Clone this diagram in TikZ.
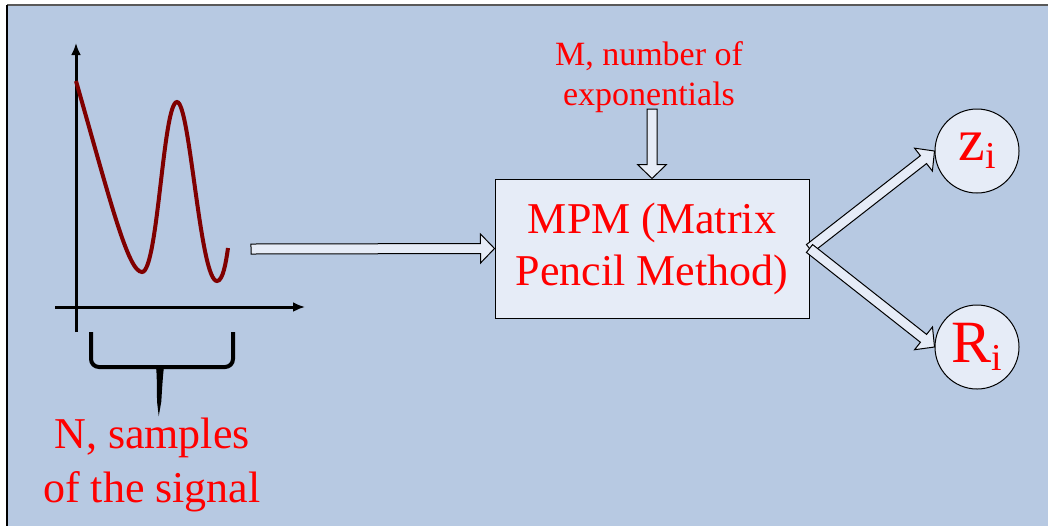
\documentclass[tikz,border=0pt]{standalone}
\usepackage{fontspec}
\setmainfont{Liberation Serif}
\usepackage{xcolor}
\usetikzlibrary{calc,arrows.meta}

\definecolor{slidebg}{HTML}{B7C9E2}
\definecolor{boxfill}{HTML}{E6ECF7}
\definecolor{signalred}{HTML}{800000}

% block arrow between two named points
\newcommand{\fatarrow}[2]{%
  \coordinate (hb) at ($(#2)!7pt!(#1)$);
  \draw[fat] ($(#1)!2.5pt!90:(#2)$) -- ($(hb)!2.5pt!90:(#2)$) -- ($(hb)!7.25pt!90:(#2)$)
    -- (#2) -- ($(hb)!7.25pt!-90:(#2)$) -- ($(hb)!2.5pt!-90:(#2)$) -- ($(#1)!2.5pt!-90:(#2)$) -- cycle;}
\newcommand{\lowidx}[1]{\raisebox{-0.13em}{\fontsize{19pt}{19pt}\selectfont #1}}

\begin{document}
\begin{tikzpicture}[x=0.5pt, y=-0.5pt,
  fat/.style={draw=black, line width=0.5pt, fill=boxfill, line join=miter},
  axis/.style={line width=1.5pt, -{Latex[length=6pt,width=5pt]}},
  redtext/.style={text=red, align=center, inner sep=0pt}]
\useasboundingbox (0,0) rectangle (1048,526);
\fill[white] (0,0) rectangle (1048,526);
\fill[slidebg] (7,5) rectangle (1048,526);
\draw[gray!70!black, line width=0.8pt] (7,5) -- (1048,5);
\draw[black, line width=0.8pt] (7,5) -- (7,526);

% signal sketch
\coordinate (origin) at (76,307);
\draw[axis] (76,332) -- (76,43);
\draw[axis] (55,307) -- (305,307);
\draw[signalred, line width=2pt] (76,81) .. controls (110,200) and (128,272) .. (142,272)
  .. controls (158,272) and (163,102) .. (177,102)
  .. controls (190,102) and (200,281) .. (217,281)
  .. controls (223,281) and (226,262) .. (228,248);
\draw[line width=2pt, rounded corners=4pt] (91,332) -- (91,367) -- (150,367)
  .. controls (158,367) and (159,372) .. (159,407)
  .. controls (161,372) and (162,367) .. (170,367) -- (233,367) -- (233,332);
\node[redtext, font=\fontsize{22pt}{27pt}\selectfont] (nlabel) at (152,465)
  {N, samples\\of the signal};

% matrix pencil block
\node[draw, line width=0.5pt, fill=boxfill, text=red, align=center, inner sep=0pt,
  minimum width=157pt, minimum height=69.5pt, font=\fontsize{22pt}{26pt}\selectfont]
  (mpm) at (652,248.5) {MPM (Matrix\\Pencil Method)};
\node[redtext, font=\fontsize{17pt}{20pt}\selectfont] (mlabel) at (649,77)
  {M, number of\\exponentials};
\node[draw, circle, line width=0.5pt, fill=boxfill, text=red, inner sep=0pt,
  minimum size=42pt, font=\fontsize{30pt}{30pt}\selectfont] (zi) at (977,151) {z\lowidx{i}};
\node[draw, circle, line width=0.5pt, fill=boxfill, text=red, inner sep=0pt,
  minimum size=42pt, font=\fontsize{30pt}{30pt}\selectfont] (ri) at (977,347) {R\lowidx{i}};

\coordinate (sigout) at (251,249);
\coordinate (mfoot) at (652,109);
\fatarrow{sigout}{mpm.west}
\fatarrow{mfoot}{mpm.north}
\fatarrow{mpm.east}{zi.west}
\fatarrow{mpm.east}{ri.west}
\end{tikzpicture}
\end{document}
